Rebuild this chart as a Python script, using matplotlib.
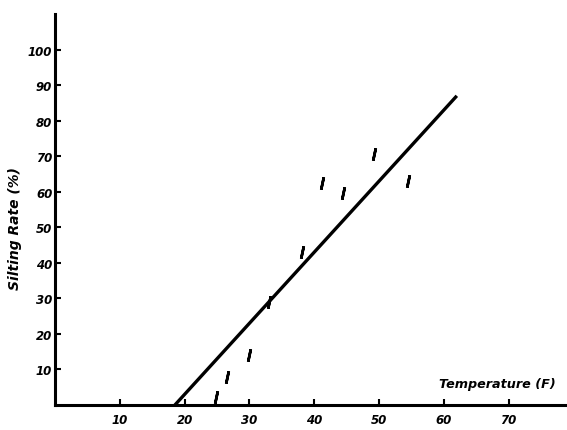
import matplotlib.pyplot as plt

# observed silting rate vs water temperature
temps = [24.8, 26.6, 30.0, 33.0, 38.1, 41.2, 44.5, 49.2, 54.5]
rates = [2.3, 8.0, 14.0, 29.0, 43.0, 62.4, 59.6, 70.5, 63.0]

# fitted trend line end points
fit_temps = [18.5, 62.0]
fit_rates = [0.0, 87.0]

x_ticks = [10, 20, 30, 40, 50, 60, 70]
y_ticks = [10, 20, 30, 40, 50, 60, 70, 80, 90, 100]

font = dict(fontweight='bold', fontstyle='italic', family='DejaVu Sans')

fig = plt.figure(figsize=(5.67, 4.31), dpi=100)
ax = fig.add_axes([0.097, 0.058, 0.903, 0.907])

ax.plot(fit_temps, fit_rates, color='black', linewidth=2.4, solid_capstyle='butt')
ax.plot(temps, rates, linestyle='none', marker=(2, 2, -12), markersize=9,
        markeredgewidth=1.9, color='black')

ax.set_xlim(0, 79)
ax.set_ylim(0, 110)
ax.spines['top'].set_visible(False)
ax.spines['right'].set_visible(False)
for s in ('left', 'bottom'):
    ax.spines[s].set_linewidth(2.2)

ax.set_xticks(x_ticks)
ax.set_yticks(y_ticks)
ax.set_xticklabels([str(t) for t in x_ticks], fontsize=8.5, **font)
ax.set_yticklabels([str(t) for t in y_ticks], fontsize=8.5, **font)
ax.tick_params(direction='in', length=4, width=1.5, pad=6)
ax.tick_params(axis='y', pad=2)

ax.set_ylabel('Silting Rate (%)', fontsize=10, **font)
ax.yaxis.set_label_coords(-0.064, 0.455)
ax.text(59.2, 5.0, 'Temperature (F)', fontsize=9.2, **font)

fig.savefig('out.png', dpi=100)
